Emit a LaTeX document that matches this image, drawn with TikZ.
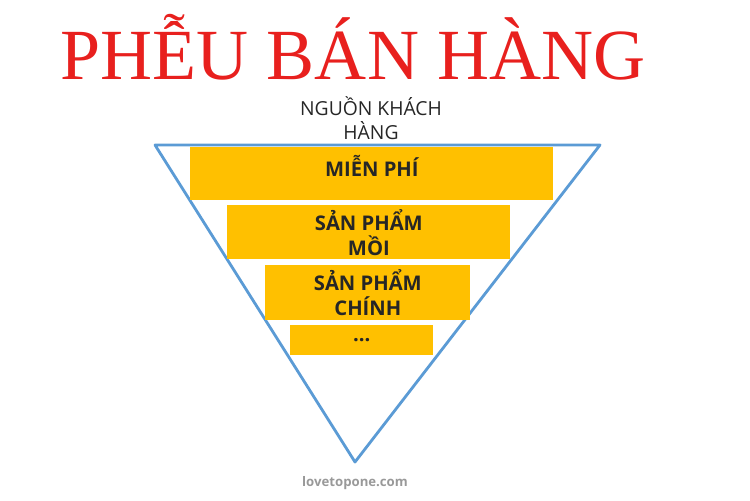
\documentclass[tikz,border=0pt]{standalone}
\usepackage{fontspec}
\setmainfont{Open Sans}
\newfontfamily\titlefont{Liberation Serif}
\usepackage{tikz}
\usetikzlibrary{positioning}

\definecolor{funnelblue}{HTML}{5B9BD5}
\definecolor{stagegold}{HTML}{FFC000}
\definecolor{titlered}{HTML}{E8201E}

\begin{document}
\begin{tikzpicture}[x=0.02cm, y=-0.02cm,
        stage/.style={fill=stagegold, draw=none, rectangle, inner sep=0pt},
        stagetext/.style={font=\bfseries\fontsize{11.5}{14}\selectfont, align=center, text=black!85}]
            \useasboundingbox (0, 0) rectangle (750, 500);

            %% Title
            \node[text=titlered, font=\titlefont\fontsize{41}{44}\selectfont] (title) at (353, 47) {PHỄU BÁN HÀNG};

            % entry label above the funnel
            \node[align=center, font=\fontsize{11}{13.5}\selectfont, text=black!85] (source) at (371, 118) {NGUỒN KHÁCH\\HÀNG};

            %% Funnel (triangle)
            \coordinate (tl) at (155, 145);
            \coordinate (tr) at (600, 145);
            \coordinate (tip) at (355, 462);
            \draw[funnelblue, line width=1.6pt, line join=round] (tl) -- (tr) -- (tip) -- cycle;

            %% Stages
            % free offer - text sits at the top of the bar
            \node[stage, minimum width=363*0.02cm, minimum height=53*0.02cm, anchor=north west] (free) at (190, 147) {};
            \node[stagetext, anchor=north] at ([yshift=-1pt]free.north) {MIỄN PHÍ};

            % lead product and main product
            \node[stage, stagetext, minimum width=283*0.02cm, minimum height=54*0.02cm, anchor=north west] (lead) at (227, 205) {SẢN PHẨM\\MỒI};
            \node[stage, stagetext, minimum width=205*0.02cm, minimum height=55*0.02cm, anchor=north west] (main) at (265, 265) {SẢN PHẨM\\CHÍNH};

            % the rest
            \node[stage, stagetext, minimum width=143*0.02cm, minimum height=30*0.02cm, anchor=north west] (rest) at (290, 325) {...};

            %% Footer
            \node[text=black!40, font=\bfseries\fontsize{7.5}{9}\selectfont] (site) at (355, 483) {lovetopone.com};

        \end{tikzpicture}
\end{document}
